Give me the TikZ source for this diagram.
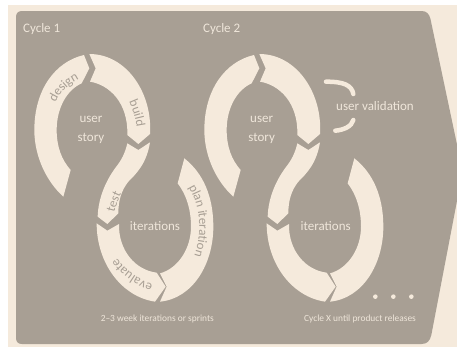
\documentclass[tikz,border=0pt]{standalone}
\usepackage{fontspec}
\setmainfont{Carlito}
\usetikzlibrary{decorations.text}
\definecolor{creamc}{HTML}{F5EADC}
\definecolor{panelc}{HTML}{A89F94}
\definecolor{labelc}{HTML}{EFE6DA}
\newcommand{\arcfont}{\fontsize{13}{14}\selectfont\color{panelc}}
\tikzset{
  x=0.33333pt,y=-0.33333pt,
  segment/.style={fill=creamc,draw=none},
  title/.style={text=labelc,font=\fontsize{13}{15}\selectfont,inner sep=0pt},
  centre/.style={text=labelc,font=\fontsize{13}{19}\selectfont,inner sep=0pt,align=center},
  caption/.style={text=labelc,font=\fontsize{9.4}{11}\selectfont,inner sep=0pt},
  arcword/.style={decorate,decoration={text along path,text align=center,text={|\arcfont|#1}}},
  bracket/.style={draw=creamc,line width=4.5pt,line cap=round},
  bead/.style={circle,fill=creamc,minimum size=4.6pt,inner sep=0pt}
}
\newcommand{\figureeight}{%
  \fill[segment] (252,165) .. controls (165,185) and (103,270) .. (103,390) .. controls (103,470) and (140,545) .. (190,590) -- (212,510) .. controls (185,480) and (170,440) .. (170,390) .. controls (170,325) and (200,270) .. (245,250) -- (268,205) -- cycle;
  \fill[segment] (268,162) -- (287,205) -- (270,245) .. controls (330,255) and (385,310) .. (382,405) -- (415,432) -- (450,402) .. controls (458,280) and (380,162) .. (268,162) -- cycle;
  \fill[segment] (382,430) -- (415,450) -- (450,427) .. controls (440,490) and (410,520) .. (385,545) .. controls (365,570) and (355,600) .. (355,640) -- (322,672) -- (293,650) .. controls (295,590) and (320,540) .. (345,505) .. controls (365,480) and (375,460) .. (382,430) -- cycle;
  \fill[segment] (290,670) -- (322,692) -- (357,672) .. controls (355,750) and (405,810) .. (470,818) -- (497,860) -- (465,905) .. controls (365,890) and (290,790) .. (290,670) -- cycle;
  \fill[segment] (480,820) -- (500,860) -- (480,905) .. controls (580,895) and (640,790) .. (640,680) .. controls (640,590) and (610,520) .. (553,475) -- (533,550) .. controls (560,585) and (573,630) .. (573,680) .. controls (573,745) and (535,805) .. (480,820) -- cycle;
}
\begin{document}
\begin{tikzpicture}
\useasboundingbox (0,0) rectangle (1371,1041);
\fill[white] (0,0) rectangle (1371,1041);
\fill[creamc] (24,15) rectangle (1371,1041);
\begin{scope}
\clip (0,0) rectangle (1371,1041);
\fill[panelc] (66,33) -- (1265,33) .. controls (1280,33) and (1287,42) .. (1291,55) -- (1388,514) -- (1294,1005) .. controls (1290,1022) and (1282,1032) .. (1265,1032) -- (66,1032) .. controls (54,1032) and (48,1025) .. (48,1014) -- (48,51) .. controls (48,40) and (54,33) .. (66,33) -- cycle;
\end{scope}
\node[title] (c1) at (125,88) {Cycle 1};
\node[title] (c2) at (665,88) {Cycle 2};

\figureeight
\begin{scope}[xshift=170pt]
\figureeight
\end{scope}

\path[arcword={design}] (160,325) .. controls (173,285) and (203,250) .. (253,230);
\path[arcword={build}] (375,280) .. controls (395,320) and (412,360) .. (412,410);
\path[arcword={test}] (340,655) .. controls (345,625) and (355,595) .. (372,565);
\path[arcword={evaluate}] (478,857) .. controls (425,847) and (375,817) .. (340,757);
\path[arcword={plan iteration}] (538,525) .. controls (590,580) and (602,650) .. (597,700) .. controls (594,740) and (585,770) .. (565,810);

\node[centre] (us1) at (273,390) {user\\story};
\node[centre] (it1) at (465,678) {iterations};
\node[caption] (sp) at (472,956) {2–3 week iterations or sprints};

\node[centre] (us2) at (785,390) {user\\story};
\node[centre] (it2) at (977,678) {iterations};
\node[centre] (uv) at (1125,318) {user validation};
\node[caption] (cx) at (1080,956) {Cycle X until product releases};

\draw[bracket] (978,245) .. controls (1030,245) and (1055,255) .. (1060,282);
\draw[bracket] (1060,360) .. controls (1055,380) and (1030,390) .. (1006,392);

\node[bead] (b1) at (1126,890) {};
\node[bead] (b2) at (1180,890) {};
\node[bead] (b3) at (1234,890) {};
\end{tikzpicture}
\end{document}
